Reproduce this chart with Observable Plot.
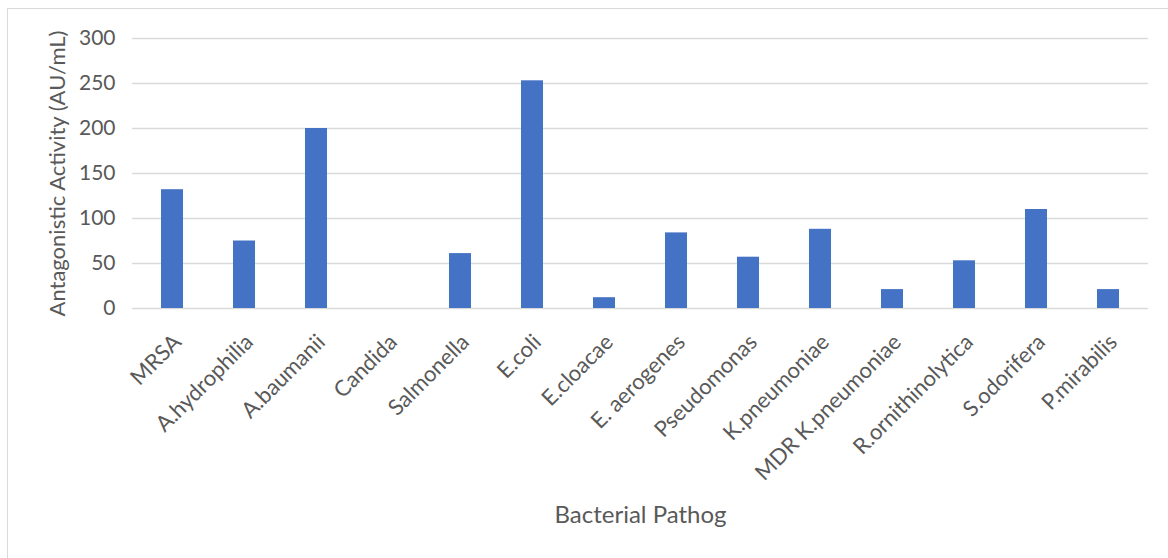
<!DOCTYPE html>
<html>
<head>
<meta charset="utf-8">
<script src="https://cdn.jsdelivr.net/npm/d3@7"></script>
<script src="https://cdn.jsdelivr.net/npm/@observablehq/plot@0.6"></script>
<style>
  html, body { margin: 0; padding: 0; background: #fff; }
  #wrap { position: relative; width: 1168px; height: 558px; overflow: hidden; }
  #frame { position: absolute; left: 7px; top: 8px; width: 1200px; height: 600px;
           border-left: 1.5px solid #d9d9d9; border-top: 1.5px solid #d9d9d9; box-sizing: border-box; }
  #chart { position: absolute; left: 0; top: 0; }
</style>
</head>
<body>
<div id="wrap"><div id="frame"></div><div id="chart"></div></div>
<script>
const pathogens = ["MRSA", "A.hydrophilia", "A.baumanii", "Candida", "Salmonella", "E.coli", "E.cloacae",
  "E. aerogenes", "Pseudomonas", "K.pneumoniae", "MDR K.pneumoniae", "R.ornithinolytica", "S.odorifera", "P.mirabilis"];
const activity = [132, 75, 200, 0, 61, 253, 12, 84, 57, 88, 21, 53, 110, 21];
const yTicks = [0, 50, 100, 150, 200, 250, 300];
const yLabel = "Antagonistic Activity (AU/mL)";
const xLabel = "Bacterial Pathog";

const data = pathogens.map((p, i) => ({pathogen: p, value: activity[i]}));
const font = "Lato, 'Open Sans', sans-serif";

const chart = Plot.plot({
  width: 1168,
  height: 558,
  marginLeft: 132,
  marginRight: 20,
  marginTop: 38,
  marginBottom: 250,
  style: {fontFamily: font, fontSize: "16px", color: "#595959", background: "transparent"},
  x: {domain: pathogens, paddingInner: 0.69, paddingOuter: 0.35, label: null},
  y: {domain: [0, 300], label: null},
  marks: [
    Plot.gridY(yTicks, {stroke: "#d9d9d9", strokeOpacity: 1, strokeWidth: 1.5}),
    Plot.barY(data, {x: "pathogen", y: "value", fill: "#4472C4"}),
    Plot.axisY(yTicks, {tickSize: 0, tickPadding: 17, fontSize: 21, fill: "#595959", label: null}),
    Plot.axisX({tickSize: 0, tickPadding: 30, dx: 5, tickRotate: -45, fontSize: 22, fill: "#595959", label: null}),
    Plot.text([yLabel], {frameAnchor: "left", dx: -75, rotate: -90, textAnchor: "middle", fontSize: 22, fill: "#595959", text: d => d}),
    Plot.text([xLabel], {frameAnchor: "bottom", dy: 214, fontSize: 24, fill: "#595959", text: d => d})
  ]
});
document.getElementById("chart").appendChild(chart);
</script>
</body>
</html>
